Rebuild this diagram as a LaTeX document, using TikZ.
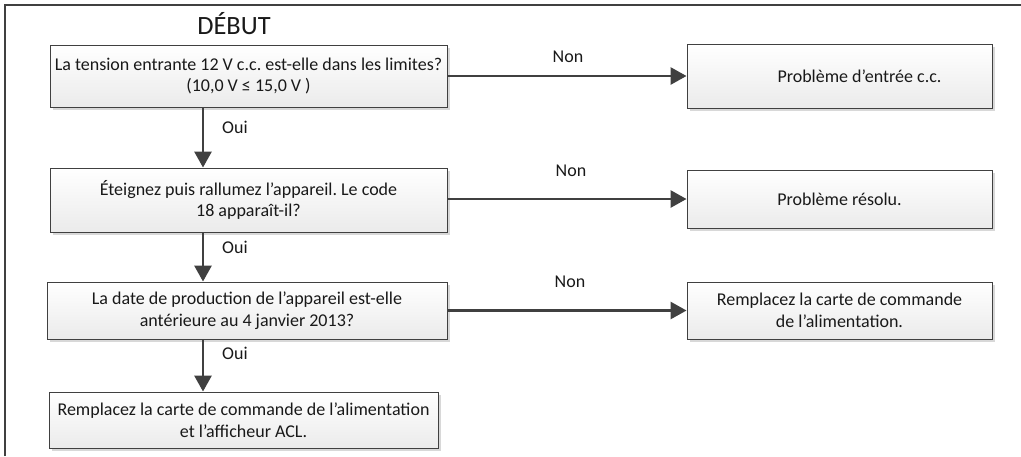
\documentclass[tikz,border=0pt]{standalone}
\usepackage{fontspec}
\setmainfont{Carlito}
\frenchspacing
\usetikzlibrary{arrows.meta,shadows}
\definecolor{edge}{HTML}{404040}
\definecolor{shadowgray}{HTML}{D8D8D8}
\tikzset{
  box/.style={draw=edge, line width=0.9pt, top color=white, bottom color=black!8,
    drop shadow={shadow xshift=3pt, shadow yshift=-3pt, fill=shadowgray, opacity=1},
    align=center, inner sep=0pt, font=\fontsize{18}{21.5}\selectfont, text=black!90},
  flow/.style={draw=edge, line width=2.8pt, -{Triangle[length=16pt,width=17pt]}},
  lbl/.style={font=\fontsize{18}{21}\selectfont, text=black!90},
  frame/.style={draw=edge, line width=2pt}
}
\begin{document}
\begin{tikzpicture}[x=1pt,y=-1pt]
\useasboundingbox (0,0) rectangle (1021,456);
\draw[frame] (5,456) -- (5,5) -- (1021,5);
\node[font=\fontsize{26.4}{30}\selectfont, text=black!90] (debut) at (234,24) {DÉBUT};
\node[box, minimum width=397pt, minimum height=62pt] (b1) at (248.5,76)
  {La tension entrante 12 V c.c. est-elle dans les limites?\\(10,0 V ≤ 15,0 V )};
\node[box, minimum width=397pt, minimum height=64pt] (b2) at (248.5,200)
  {Éteignez puis rallumez l’appareil. Le code\\18 apparaît-il?};
\node[box, minimum width=400pt, minimum height=57pt] (b3) at (247,310.5)
  {La date de production de l’appareil est-elle\\antérieure au 4 janvier 2013?};
\node[box, minimum width=389pt, minimum height=56pt] (b4) at (243.5,420)
  {Remplacez la carte de commande de l’alimentation\\et l’afficheur ACL.};
\node[box, minimum width=305pt, minimum height=64pt] (r1) at (839.5,76)
  {\hspace*{40pt}Problème d’entrée c.c.};
\node[box, minimum width=305pt, minimum height=58pt] (r2) at (839.5,199)
  {Problème résolu.};
\node[box, minimum width=305pt, minimum height=57pt] (r3) at (839.5,310.5)
  {Remplacez la carte de commande\\de l’alimentation.};
\coordinate (ax) at (203,0);
\draw[flow] (b1.south -| ax) -- (b2.north -| ax);
\draw[flow] (b2.south -| ax) -- (b3.north -| ax);
\draw[flow] (b3.south -| ax) -- (b4.north -| ax);
\draw[flow] (b1.east) -- (r1.west);
\draw[flow] (b2.east |- r2.west) -- (r2.west);
\draw[flow] (b3.east) -- (r3.west);
\node[lbl] (o1) at (235,127) {Oui};
\node[lbl] (o2) at (235,247) {Oui};
\node[lbl] (o3) at (235,353) {Oui};
\node[lbl] (n1) at (568,57) {Non};
\node[lbl] (n2) at (571,171) {Non};
\node[lbl] (n3) at (570,282) {Non};
\end{tikzpicture}
\end{document}
